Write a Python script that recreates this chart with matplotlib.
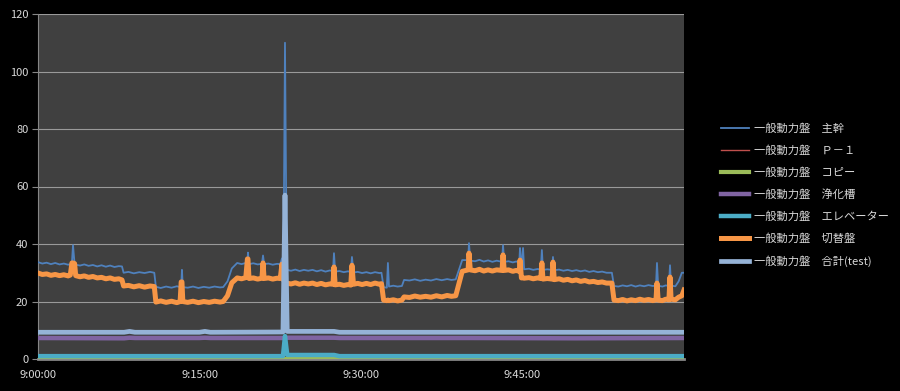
import matplotlib
matplotlib.use("Agg")
import matplotlib.pyplot as plt
from matplotlib.ticker import FixedLocator

plt.rcParams['font.family'] = ['Noto Sans CJK JP', 'DejaVu Sans']

# ---- data (minutes after 9:00) ----
t_main = [0, 0.4, 0.8, 1.2, 1.6, 2.0, 2.4, 2.8, 3.0,
          3.15, 3.25, 3.4, 3.5,
          3.9, 4.3, 4.7, 5.1, 5.5, 5.9, 6.3, 6.7, 7.1, 7.5, 7.8,
          7.95, 8.4, 8.9, 9.4, 9.9, 10.4, 10.8,
          10.95, 11.4, 11.9, 12.4, 12.9, 13.2,
          13.3, 13.37, 13.45,
          13.9, 14.4, 14.9, 15.4, 15.9, 16.4, 16.9, 17.2,
          17.6, 18.0, 18.5, 18.9, 19.3,
          19.45, 19.5, 19.6, 20.0, 20.4, 20.8, 20.9, 21.0,
          21.4, 21.8, 22.2, 22.5, 22.66, 22.8, 22.94, 23.1,
          23.5, 23.9, 24.3, 24.7, 25.1, 25.5, 25.9, 26.3, 26.7, 27.1, 27.4,
          27.49, 27.6, 28.0, 28.4, 28.8, 29.05, 29.16, 29.3,
          29.7, 30.1, 30.5, 30.9, 31.3, 31.7, 31.9,
          32.1, 32.4, 32.5, 32.6, 33.0, 33.4, 33.8, 34.0,
          34.5, 35.0, 35.5, 36.0, 36.5, 37.0, 37.5, 38.0, 38.4, 38.8,
          39.4, 39.95, 40.03, 40.15,
          40.6, 41.0, 41.4, 41.8, 42.2, 42.6, 43.1, 43.19, 43.3,
          43.7, 44.1, 44.4, 44.7, 44.77, 44.9, 45.05, 45.15,
          45.6, 46.0, 46.4, 46.7, 46.8, 46.9, 47.3, 47.75, 47.83, 47.95,
          48.4, 48.8, 49.2, 49.6, 50.0, 50.4, 50.8, 51.2, 51.6, 52.0, 52.4, 52.8, 53.3,
          53.5, 53.9, 54.3, 54.7, 55.1, 55.5, 55.9, 56.3, 56.7, 57.1, 57.4,
          57.49, 57.6, 58.0, 58.3, 58.6, 58.7, 58.8, 59.2, 59.5, 59.8, 60]
shukan = [33.7, 33.2, 33.5, 33.0, 33.4, 32.9, 33.2, 32.8, 33.0,
          33.4, 39.6, 33.0, 32.8,
          32.5, 32.9, 32.4, 32.7, 32.2, 32.6, 32.1, 32.5, 32.0, 32.3, 32.2,
          30.0, 30.3, 29.8, 30.2, 29.9, 30.3, 30.0,
          25.1, 24.7, 25.2, 24.8, 25.3, 25.0,
          25.0, 31.0, 25.0,
          24.8, 25.2, 24.7, 25.1, 24.8, 25.2, 24.9, 25.0,
          27.0, 31.5, 33.4, 33.0, 33.4,
          33.2, 37.0, 33.0, 33.3, 32.9, 33.1, 36.0, 33.0,
          33.2, 32.8, 33.1, 33.0, 35.0, 32.5, 110.0, 31.0,
          30.7, 31.1, 30.6, 31.0, 30.7, 31.0, 30.5, 30.9, 30.4, 30.8, 30.6,
          36.8, 30.4, 30.6, 30.2, 30.5, 30.2, 35.5, 30.1,
          30.3, 29.9, 30.2, 29.8, 30.2, 29.9, 30.0,
          25.0, 24.8, 33.4, 25.2, 25.5, 25.2, 25.4, 27.5,
          27.3, 27.7, 27.2, 27.6, 27.3, 27.8, 27.4, 27.8, 27.5, 27.7,
          34.4, 34.4, 40.3, 34.2,
          34.0, 34.5, 33.9, 34.3, 33.8, 34.2, 33.8, 39.6, 33.8,
          34.0, 33.6, 33.9, 33.7, 38.6, 31.3, 38.6, 31.2,
          31.4, 31.0, 31.3, 31.1, 37.9, 31.0, 31.2, 31.0, 35.5, 30.9,
          31.1, 30.7, 31.0, 30.6, 30.9, 30.5, 30.8, 30.3, 30.6, 30.2, 30.4, 30.0, 30.0,
          25.4, 25.2, 25.6, 25.3, 25.7, 25.2, 25.6, 25.3, 25.7, 25.4, 25.5,
          33.4, 25.5, 25.2, 25.6, 25.4, 32.6, 25.5, 25.3, 27.0, 30.0, 30.0]
kirikae = [29.9, 29.4, 29.6, 29.1, 29.4, 29.0, 29.3, 28.9, 29.2,
           33.4, 33.4, 33.2, 29.0,
           28.6, 28.9, 28.4, 28.7, 28.2, 28.4, 27.9, 28.2, 27.7, 27.9, 27.5,
           25.4, 25.6, 25.1, 25.5, 25.0, 25.4, 25.2,
           19.8, 20.2, 19.7, 20.1, 19.6, 20.0,
           26.8, 26.8, 20.0,
           19.7, 20.1, 19.6, 20.0, 19.7, 20.1, 19.8, 20.0,
           22.0, 26.5, 28.2, 27.9, 28.3,
           34.8, 34.8, 28.0, 28.2, 27.8, 28.1, 33.4, 28.0,
           28.2, 27.8, 28.1, 28.0, 33.0, 27.5, 27.0, 26.4,
           26.1, 26.5, 26.0, 26.4, 26.1, 26.4, 25.9, 26.3, 25.8, 26.1, 26.0,
           32.0, 25.8, 26.0, 25.6, 25.9, 25.7, 32.6, 26.0,
           26.3, 25.9, 26.3, 25.9, 26.4, 26.0, 26.2,
           20.5, 20.3, 20.5, 20.3, 20.6, 20.2, 20.5, 21.6,
           21.4, 21.9, 21.5, 21.8, 21.5, 22.0, 21.6, 22.1, 21.8, 22.0,
           30.5, 31.0, 36.8, 31.0,
           30.7, 31.2, 30.6, 31.0, 30.6, 31.0, 30.8, 36.2, 30.8,
           31.0, 30.5, 30.8, 30.5, 34.4, 28.2, 28.2, 28.1,
           28.3, 27.9, 28.2, 28.0, 33.4, 27.8, 28.0, 27.8, 33.7, 27.6,
           27.9, 27.4, 27.7, 27.2, 27.5, 27.0, 27.3, 26.8, 27.0, 26.6, 26.8, 26.4, 26.4,
           20.5, 20.3, 20.7, 20.2, 20.6, 20.3, 20.8, 20.4, 20.7, 20.3, 20.6,
           26.4, 20.5, 20.3, 20.8, 20.6, 28.5, 20.8, 20.6, 21.5, 22.0, 24.0]
assert len(t_main) == len(shukan) == len(kirikae)

t_base = [0, 8.0, 8.5, 9.0, 15.0, 15.5, 16.0, 22.75, 22.94, 23.15, 27.5, 28.0, 40, 50, 60]
goukei = [9.3, 9.3, 9.6, 9.3, 9.3, 9.6, 9.3, 9.4, 57.0, 9.6, 9.6, 9.3, 9.3, 9.3, 9.3]
jouka = [7.3, 7.2, 7.4, 7.3, 7.3, 7.4, 7.3, 7.3, 7.3, 7.4, 7.4, 7.3, 7.3, 7.2, 7.3]
elevator = [1.0, 1.0, 1.0, 1.0, 1.0, 1.0, 1.0, 1.0, 8.0, 1.4, 1.4, 1.0, 1.0, 1.0, 1.0]
copy_ = [0.0] * len(t_base)
p1 = [0.2] * len(t_base)

labels = ['一般動力盤　主幹', '一般動力盤　Ｐ－１', '一般動力盤　コピー', '一般動力盤　浄化槽',
          '一般動力盤　エレベーター', '一般動力盤　切替盤', '一般動力盤　合計(test)']
xtick_pos = [0, 15, 30, 45]
xtick_labels = ['9:00:00', '9:15:00', '9:30:00', '9:45:00']

fig = plt.figure(figsize=(9.0, 3.91), dpi=100, facecolor='black')
ax = fig.add_axes([38/900, 1-359/391, (684-38)/900, (359-14)/391])
ax.set_facecolor('#404040')

ax.plot(t_main, shukan, color='#4f81bd', lw=1.3, label=labels[0], zorder=3)
ax.plot(t_base, p1, color='#c0504d', lw=1.0, label=labels[1], zorder=3)
ax.plot(t_base, copy_, color='#9bbb59', lw=3.0, label=labels[2], zorder=3)
ax.plot(t_base, jouka, color='#8064a2', lw=3.2, label=labels[3], zorder=3)
ax.plot(t_base, elevator, color='#4bacc6', lw=3.2, label=labels[4], zorder=3)
ax.plot(t_main, kirikae, color='#f79646', lw=3.6, label=labels[5], zorder=3)
ax.plot(t_base, goukei, color='#95b3d7', lw=3.4, label=labels[6], zorder=3)

ax.set_xlim(0, 60)
ax.set_ylim(0, 120)
ax.set_yticks(range(0, 121, 20))
ax.xaxis.set_major_locator(FixedLocator(xtick_pos))
ax.set_xticklabels(xtick_labels)
ax.grid(axis='y', color='#9a9a9a', lw=0.8)
ax.set_axisbelow(True)
for s in ['top', 'right']:
    ax.spines[s].set_visible(False)
ax.spines['left'].set_color('#868686')
ax.spines['bottom'].set_color('#868686')
ax.spines['bottom'].set_linewidth(2.0)
ax.tick_params(axis='y', colors='#868686', labelcolor='#d9d9d9', labelsize=8, length=4, width=0.8, pad=3)
ax.tick_params(axis='x', colors='#868686', labelcolor='#d9d9d9', labelsize=8, length=0, pad=8)

leg = fig.legend(loc='upper left', bbox_to_anchor=(0.79, 1-113/391), frameon=False,
                 fontsize=8.1, labelcolor='#d9d9d9', handlelength=2.5, labelspacing=1.02,
                 handletextpad=0.45)

fig.savefig('out.png', dpi=100, facecolor='black')
